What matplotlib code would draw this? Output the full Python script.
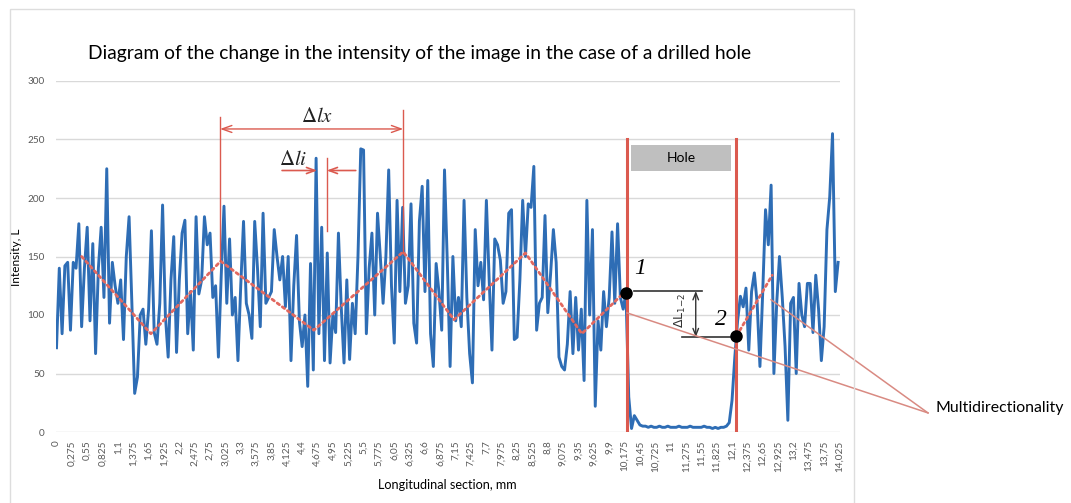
import numpy as np
import matplotlib.pyplot as plt
from matplotlib.patches import Rectangle

plt.rcParams['font.family'] = ['Lato', 'DejaVu Sans']

# intensity, one value every 0.05 mm
step_mm = 0.05
intensity_before = [
    72, 140, 84, 142, 145, 87, 145, 140, 178, 90,
    140, 175, 95, 161, 67, 140, 175, 115, 225, 93,
    145, 125, 110, 130, 79, 150, 184, 110, 33, 47,
    100, 105, 75, 105, 172, 85, 75, 110, 194, 100,
    64, 130, 167, 68, 130, 170, 181, 84, 120, 70,
    184, 118, 130, 184, 160, 170, 115, 125, 64, 133,
    193, 110, 165, 100, 115, 61, 125, 180, 110, 100,
    80, 180, 140, 90, 187, 110, 115, 120, 173, 150,
    130, 150, 107, 150, 61, 125, 168, 95, 73, 100,
    39, 144, 53, 234, 84, 175, 61, 153, 59, 100,
    85, 170, 107, 59, 130, 62, 110, 84, 150, 242,
    241, 84, 140, 170, 100, 187, 150, 110, 150,
    224, 125, 76, 198, 120, 192, 110, 125, 195, 93,
    76, 180, 210, 120, 215, 84, 56, 144, 120, 87,
    224, 145, 56, 150, 95, 115, 90, 198, 115, 67,
    42, 173, 125, 145, 113, 198, 130, 70, 165, 160,
    147, 110, 120, 187, 190, 79, 81, 130, 198, 150,
    195, 192, 227, 87, 110, 115, 185, 102, 135, 173,
    145, 64, 56, 53, 75, 120, 67, 115, 70, 105,
    44, 198, 100, 173, 22, 95, 70, 120, 90,
    115, 171, 110, 178, 115, 105, 119, 30,
]
intensity_hole = [
    3, 14, 10, 6, 5, 5, 4, 5, 4, 4,
    5, 4, 4, 5, 4, 4, 4, 5, 4, 4,
    4, 5, 4, 4, 4, 4, 5, 4, 4, 3,
    4, 3, 4, 4, 5,
]
intensity_after = [
    8, 27, 64, 95, 116, 107, 123, 70, 120, 136,
    110, 56, 120, 190, 160, 211, 50, 110, 150, 115,
    73, 10, 110, 115, 50, 127, 100, 90, 127, 127,
    85, 134, 105, 61, 90, 173, 201, 255, 120, 145,
]

# dotted trend (zigzag) lines
trend_x = [0.45, 1.69, 2.94, 4.61, 6.21, 7.12, 8.40, 9.41, 10.12]
trend_y = [150, 84, 146, 87, 154, 96, 153, 84, 117]
trend2_x = [12.18, 12.82]
trend2_y = [82, 134]

hole_edges = [10.21, 12.18]
point_x = [10.195, 12.17]
point_y = [119, 82]

tick_mm = np.arange(52) * 0.275
tick_labels = [('%.3f' % v).rstrip('0').rstrip('.').replace('.', ',') for v in tick_mm]

intensity = np.array(intensity_before + intensity_hole + intensity_after)
x_mm = np.arange(len(intensity)) * step_mm

blue = '#2E6DB5'
red = '#DB5A4F'
light_red = '#E2685F'
grey_txt = '#595959'

fig = plt.figure(figsize=(10.71, 5.03), dpi=100)
ax = fig.add_axes([56 / 1071, 71 / 503, 784 / 1071, 351 / 503])
ax.set_xlim(-0.009, 14.034)
ax.set_ylim(0, 300)

ax.set_yticks(np.arange(0, 301, 50))
ax.yaxis.grid(True, color='#D9D9D9', lw=1)
ax.set_axisbelow(True)
for s in ax.spines.values():
    s.set_visible(False)
ax.set_xticks(tick_mm)
ax.set_xticklabels(tick_labels, rotation=90)
ax.tick_params(axis='both', length=0, labelsize=7.2, labelcolor=grey_txt)
ax.tick_params(axis='x', pad=6)
ax.tick_params(axis='y', pad=8)

ax.plot(x_mm, intensity, color=blue, lw=2.1, zorder=3)

# trend lines
ax.plot(trend_x, trend_y, color=light_red, lw=2, ls=(0, (1, 1.3)),
        dash_capstyle='round', zorder=4)
ax.plot(trend2_x, trend2_y, color=light_red, lw=2, ls=(0, (1, 1.3)),
        dash_capstyle='round', zorder=4)

# hole
for xe in hole_edges:
    ax.plot([xe, xe], [0, 250.5], color=red, lw=2.2, zorder=5)
ax.add_patch(Rectangle((10.29, 223.5), 1.79, 22, facecolor='#BFBFBF',
                       edgecolor='none', zorder=5))
ax.text(11.185, 234.5, 'Hole', ha='center', va='center', fontsize=10, zorder=6)

# delta lx
ax.plot([2.93, 2.93], [146, 269.5], color=red, lw=1, zorder=5)
ax.plot([6.21, 6.21], [154, 275], color=red, lw=1, zorder=5)
ax.annotate('', xy=(2.93, 259), xytext=(6.21, 259),
            arrowprops=dict(arrowstyle='<->,head_length=0.7,head_width=0.25',
                            color=red, lw=1, shrinkA=0, shrinkB=0), zorder=5)
ax.text(4.67, 270, r'$\Delta lx$', ha='center', va='center', fontsize=15,
        math_fontfamily='stix', color='#222222')

# delta li
ax.plot([4.84, 4.84], [172, 234], color=red, lw=1, zorder=5)
ax.annotate('', xy=(4.67, 223.5), xytext=(4.04, 223.5),
            arrowprops=dict(arrowstyle='->,head_length=0.6,head_width=0.22',
                            color=red, lw=1.2, shrinkA=0, shrinkB=0), zorder=5)
ax.annotate('', xy=(4.84, 223.5), xytext=(5.36, 223.5),
            arrowprops=dict(arrowstyle='->,head_length=0.6,head_width=0.22',
                            color=red, lw=1.2, shrinkA=0, shrinkB=0), zorder=5)
ax.text(4.24, 233, r'$\Delta li$', ha='center', va='center', fontsize=15,
        math_fontfamily='stix', color='#222222')

# points 1 and 2, delta L
ax.plot([10.35, 11.56], [120.5, 120.5], color='#333333', lw=1.2, zorder=6)
ax.plot([11.20, 12.15], [81, 81], color='#333333', lw=1.2, zorder=6)
ax.annotate('', xy=(11.45, 81), xytext=(11.45, 120.5),
            arrowprops=dict(arrowstyle='<->,head_length=0.5,head_width=0.2',
                            color='#333333', lw=1, shrinkA=0, shrinkB=0), zorder=6)
ax.text(11.18, 104, r'$\Delta\mathrm{L}_{1\mathrm{-}2}$', rotation=90, ha='center',
        va='center', fontsize=9, math_fontfamily='dejavusans', color='#333333')
ax.plot(point_x, point_y, 'o', color='black', ms=8, zorder=7)
ax.text(10.46, 140, '1', family='Liberation Serif', style='italic', fontsize=17,
        ha='center', va='center')
ax.text(11.90, 96, '2', family='Liberation Serif', style='italic', fontsize=17,
        ha='center', va='center')

# multidirectionality callout
ax.plot([15.61, 10.22], [16.3, 101.8], color='#D98A82', lw=1.1, clip_on=False, zorder=6)
ax.plot([15.61, 12.80], [16.3, 113], color='#D98A82', lw=1.1, clip_on=False, zorder=6)
ax.text(15.74, 20.5, 'Multidirectionality', ha='left', va='center', fontsize=11.4)

# frame, titles
fig.add_artist(Rectangle((10 / 1071, -0.01), 844 / 1071, 1 - 9.5 / 503 + 0.01,
                         transform=fig.transFigure, facecolor='none',
                         edgecolor='#DDDDDD', lw=1))
fig.text(419.5 / 1071, 1 - 53 / 503,
         'Diagram of the change in the intensity of the image in the case of a drilled hole',
         ha='center', va='center', fontsize=13.9)
fig.text(16.4 / 1071, 1 - 257 / 503, 'Intensity, L', rotation=90,
         ha='center', va='center', fontsize=8.6)
fig.text(447 / 1071, 1 - 485 / 503, 'Longitudinal section, mm',
         ha='center', va='center', fontsize=9.1)

fig.savefig('out.png', dpi=100)
